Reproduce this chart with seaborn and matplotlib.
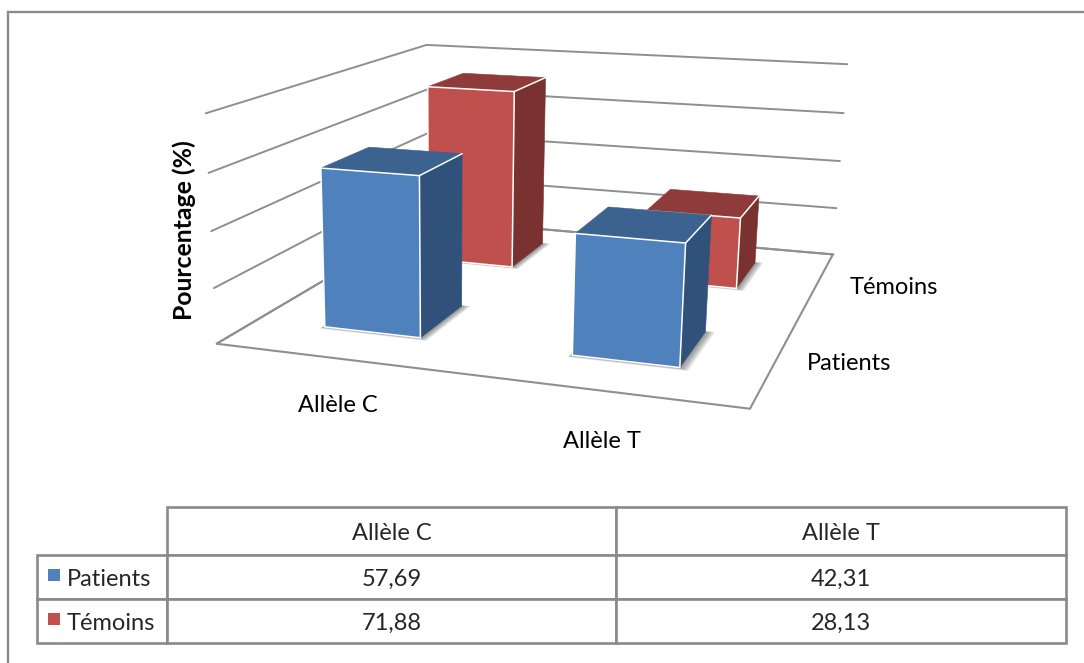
import numpy as np
import pandas as pd
import seaborn as sns
import matplotlib
matplotlib.use("Agg")
import matplotlib.pyplot as plt
from matplotlib.patches import Polygon, Rectangle

# Allele frequencies (%) per group
alleles = ["Allèle C", "Allèle T"]
groups = ["Patients", "Témoins"]
patients = [57.69, 42.31]
temoins = [71.88, 28.13]
patients_text = ["57,69", "42,31"]
temoins_text = ["71,88", "28,13"]
z_ticks = [0, 20, 40, 60, 80]

sns.set_theme(style="white")
plt.rcParams["font.family"] = ["Lato", "DejaVu Sans"]

df = pd.DataFrame({"Patients": patients, "Témoins": temoins}, index=alleles)

W, H = 1084, 663
fig = plt.figure(figsize=(W / 100, H / 100), dpi=100, facecolor="white")
ax = fig.add_axes([0, 0, 1, 1])
ax.set_xlim(0, W)
ax.set_ylim(H, 0)
ax.axis("off")

# Pinhole camera calibrated on the corners of the plot box
# (category axis, depth axis, value axis -> canvas position)
box_world = np.array([
    (0, 0, 0), (1, 0, 0), (1, 1, 0), (0, 1, 0), (0, 1, 1), (1, 1, 1), (0, 0, 1),
    (0, 0, .75), (0, 0, .5), (0, 0, .25), (1, 1, .75), (1, 1, .5), (1, 1, .25),
], dtype=float)
box_canvas = np.array([
    (218, 343), (750, 410), (833, 253), (426, 221), (428, 44), (847, 65), (205, 114),
    (208, 173), (211, 231), (214, 287), (843, 113), (840, 161), (837, 208),
], dtype=float)


def fit_camera(world, canvas):
    rows = []
    for (x, y, z), (u, v) in zip(world, canvas):
        rows.append([x, y, z, 1, 0, 0, 0, 0, -u * x, -u * y, -u * z, -u])
        rows.append([0, 0, 0, 0, x, y, z, 1, -v * x, -v * y, -v * z, -v])
    return np.linalg.svd(np.array(rows))[2][-1].reshape(3, 4)


camera = fit_camera(box_world, box_canvas)


def project(x, y, value):
    p = camera @ np.array([x, y, value / z_ticks[-1], 1.0])
    return p[:2] / p[2]


GRID = "#8f8f8f"

# Wall gridlines and floor outline
for tick in z_ticks:
    a, b, c = project(0, 0, tick), project(0, 1, tick), project(1, 1, tick)
    ax.plot([a[0], b[0], c[0]], [a[1], b[1], c[1]], color=GRID, lw=1.4,
            solid_joinstyle="miter", zorder=1)
floor = [project(0, 0, 0), project(1, 0, 0), project(1, 1, 0), project(0, 1, 0)]
ax.add_patch(Polygon(floor, closed=True, fill=False, edgecolor=GRID, lw=1.5, zorder=1))


def draw_bar(xc, yc, value, front, side, top, order):
    w, d = 0.100, 0.105
    x0, x1, y0, y1 = xc - w, xc + w, yc - d, yc + d
    # Soft contact shadow on the floor
    for grow in np.linspace(0.018, 0.003, 8):
        corners = [project(x0 - grow * .3, y0 - grow * .7, 0), project(x1 + grow, y0 - grow * .7, 0),
                   project(x1 + grow, y1 + grow * .2, 0), project(x0 - grow * .3, y1 + grow * .2, 0)]
        ax.add_patch(Polygon(corners, closed=True, facecolor="#303030", edgecolor="none",
                             alpha=0.08, zorder=order))
    f = [project(x0, y0, 0), project(x1, y0, 0), project(x1, y0, value), project(x0, y0, value)]
    s = [project(x1, y0, 0), project(x1, y1, 0), project(x1, y1, value), project(x1, y0, value)]
    t = [project(x0, y0, value), project(x1, y0, value), project(x1, y1, value), project(x0, y1, value)]
    ax.add_patch(Polygon(s, closed=True, facecolor=side, edgecolor=side, lw=0.4, zorder=order + .1))
    ax.add_patch(Polygon(t, closed=True, facecolor=top, edgecolor=top, lw=0.4, zorder=order + .1))
    ax.add_patch(Polygon(f, closed=True, facecolor=front, edgecolor="white", lw=1.1,
                         joinstyle="miter", zorder=order + .2))
    ax.plot([t[1][0], t[2][0]], [t[1][1], t[2][1]], color="white", lw=1.1, zorder=order + .3)


blue, red = sns.color_palette(["#4F81BD", "#C0504D"])
blue_side, blue_top = "#30527A", "#3C628F"
red_side, red_top = "#7A3230", "#8F3B39"
x_pos = [0.245, 0.745]
y_pos = {"Patients": 0.26, "Témoins": 0.77}

# Back row first so the front bars hide it
for i, allele in enumerate(alleles):
    draw_bar(x_pos[i], y_pos["Témoins"], df.loc[allele, "Témoins"], red, red_side, red_top, 2 + i)
for i, allele in enumerate(alleles):
    draw_bar(x_pos[i], y_pos["Patients"], df.loc[allele, "Patients"], blue, blue_side, blue_top, 4 + i)

FS = 17
ax.text(184, 230, "Pourcentage (%)", rotation=90, fontsize=17.8, fontweight="bold",
        ha="center", va="center", color="black")
for label, (px, py) in zip(alleles, [(338, 406), (602, 441)]):
    ax.text(px, py, label, fontsize=FS, ha="center", va="center", color="black")
for label, (px, py) in zip(groups, [(849, 364), (894, 287)]):
    ax.text(px, py, label, fontsize=FS, ha="center", va="center", color="black")

# Outer chart frame, open on the right and at the bottom
ax.plot([8, 8, W], [H, 12, 12], color="#8a8a8a", lw=1.7, solid_joinstyle="miter", zorder=1)

# Data table with its legend keys
rows = [["", *alleles], [groups[0], *patients_text], [groups[1], *temoins_text]]
table = ax.table(cellText=rows, colWidths=[130, 449, 450], cellLoc="center",
                 bbox=[37 / W, 1 - 643 / H, 1029 / W, 136 / H])
table.auto_set_font_size(False)
table.set_fontsize(FS)
for (r, c), cell in table.get_celld().items():
    cell.set_edgecolor("#8a8a8a")
    cell.set_linewidth(1.9)
    cell.set_height(48 if r == 0 else 44)
    cell.get_text().set_va("center_baseline")
    if c == 0 and r > 0:
        cell.PAD = 30 / 130
        cell.get_text().set_ha("left")
        cell._loc = "left"
table[0, 0].set_visible(False)

ax.add_patch(Rectangle((48, 569), 12, 12, facecolor=blue, edgecolor="none", zorder=8))
ax.add_patch(Rectangle((48, 613), 12, 12, facecolor=red, edgecolor="none", zorder=8))

fig.savefig("out.png", dpi=100, facecolor="white")
